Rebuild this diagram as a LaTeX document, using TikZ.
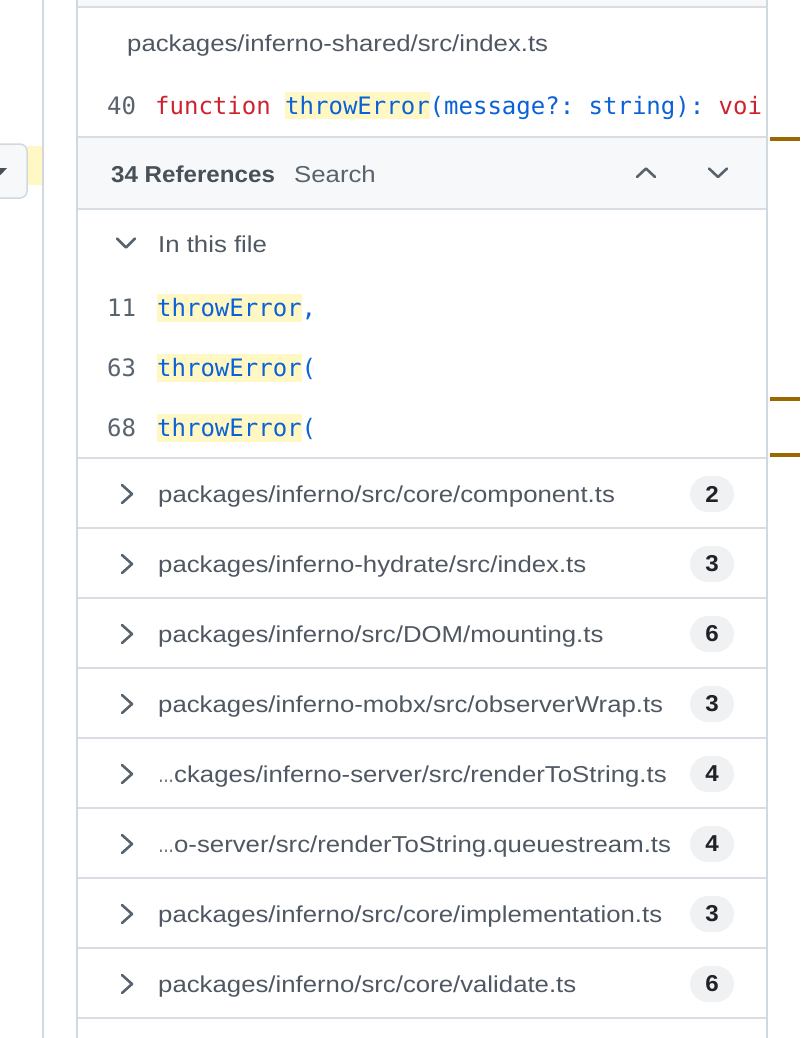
\documentclass[tikz,border=0pt]{standalone}
\usepackage{fontspec}
\usepackage{graphicx}
\setmainfont{Liberation Sans}[FakeStretch=1.12, BoldFeatures={FakeStretch=1.05}]
\setmonofont{DejaVu Sans Mono}
\definecolor{linec}{HTML}{D8DEE4}
\definecolor{vline}{HTML}{D1D9E0}
\definecolor{barbg}{HTML}{F6F8FA}
\definecolor{pathc}{HTML}{4F5862}
\definecolor{numc}{HTML}{59636E}
\definecolor{iconc}{HTML}{59636E}
\definecolor{kw}{HTML}{CF222E}
\definecolor{fn}{HTML}{0B62D6}
\definecolor{hl}{HTML}{FFF8C5}
\definecolor{badgebg}{HTML}{EFF1F3}
\definecolor{dark}{HTML}{1F2328}
\definecolor{gold}{HTML}{9A6700}
\newcommand\hlw[1]{{\setlength\fboxsep{0pt}\colorbox{hl}{\rule[-5.5pt]{0pt}{28pt}#1}}}
\newcommand\shortell{\scalebox{0.62}[1]{…}}
\tikzset{
  lbl/.style={anchor=base west, inner sep=0pt, text=pathc, font=\fontsize{23}{27}\selectfont},
  code/.style={anchor=base west, inner sep=0pt, font=\fontsize{24}{28}\selectfont\ttfamily},
  lnum/.style={code, text=numc},
  badge/.style={fill=badgebg, rounded corners=18pt, minimum width=44pt, minimum height=36pt, inner sep=0pt, text=dark, font=\fontsize{23}{27}\selectfont\bfseries},
  chev/.style={draw=iconc, line width=2.6pt, line cap=round, line join=round},
  sep/.style={draw=linec, line width=2pt},
  vsep/.style={draw=vline, line width=2pt},
  mark line/.style={draw=gold, line width=4pt}
}
\newcommand\refrow[4]{%
  \draw[chev] (122,#2-9) -- (132,#2) -- (122,#2+9);
  \node[lbl] (r#1) at (158,#2+8.5) {#3};
  \node[badge] (b#1) at (712,#2) {#4};
  \draw[sep] (77,#2+34) -- (767,#2+34);}
\begin{document}
\begin{tikzpicture}[x=1pt,y=-1pt]
\useasboundingbox (0,0) rectangle (800,1038);
% top gray strip
\fill[barbg] (77,0) rectangle (767,7);
\draw[sep] (77,7) -- (767,7);
% left dropdown button
\fill[hl] (27,146) rectangle (43,185);
\draw[draw=vline, line width=1.5pt, fill=barbg, rounded corners=7pt] (-12,144) rectangle (27,198);
\fill[numc!70!dark] (-6,168) -- (7,168) -- (0.5,175) -- cycle;
% file heading
\node[lbl] (fname) at (127,52) {packages/inferno-shared/src/index.ts};
\node[lnum] (n40) at (107,114) {40};
\node[code] (c40) at (155,114) {\textcolor{kw}{function} \hlw{\textcolor{fn}{throwError}}\textcolor{fn}{(message?: string):} \textcolor{kw}{voi}};
% references header bar
\fill[barbg] (77,137) rectangle (767,209);
\draw[sep] (77,137) -- (767,137);
\draw[sep] (77,209) -- (767,209);
\node[lbl, font=\fontsize{23}{27}\selectfont\bfseries, text=pathc!85!dark] (refs) at (111,182) {34 References};
\node[lbl, text=numc] (search) at (294,182) {Search};
\draw[chev] (637,177) -- (646,168.5) -- (655,177);
\draw[chev] (709,168.5) -- (718,177) -- (727,168.5);
% in this file
\draw[chev] (117,238.5) -- (126,247.5) -- (135,238.5);
\node[lbl] (inthis) at (158,252) {In this file};
\node[lnum] (n11) at (107,316.5) {11};
\node[code] (c11) at (157,316.5) {\hlw{\textcolor{fn}{throwError}}\textcolor{fn}{,}};
\node[lnum] (n63) at (107,376.5) {63};
\node[code] (c63) at (157,376.5) {\hlw{\textcolor{fn}{throwError}}\textcolor{fn}{(}};
\node[lnum] (n68) at (107,436.5) {68};
\node[code] (c68) at (157,436.5) {\hlw{\textcolor{fn}{throwError}}\textcolor{fn}{(}};
\draw[sep] (77,458) -- (767,458);
% file rows
\refrow{1}{494}{packages/inferno/src/core/component.ts}{2}
\refrow{2}{564}{packages/inferno-hydrate/src/index.ts}{3}
\refrow{3}{634}{packages/inferno/src/DOM/mounting.ts}{6}
\refrow{4}{704}{packages/inferno-mobx/src/observerWrap.ts}{3}
\refrow{5}{774}{\shortell ckages/inferno-server/src/renderToString.ts}{4}
\refrow{6}{844}{\shortell o-server/src/renderToString.queuestream.ts}{4}
\refrow{7}{914}{packages/inferno/src/core/implementation.ts}{3}
\refrow{8}{984}{packages/inferno/src/core/validate.ts}{6}
% vertical borders
\draw[vsep] (43,0) -- (43,1038);
\draw[vsep] (77,0) -- (77,1038);
\draw[vsep] (767,0) -- (767,1038);
% gold markers
\draw[mark line] (770,139) -- (800,139);
\draw[mark line] (770,399) -- (800,399);
\draw[mark line] (770,455) -- (800,455);
\end{tikzpicture}
\end{document}
